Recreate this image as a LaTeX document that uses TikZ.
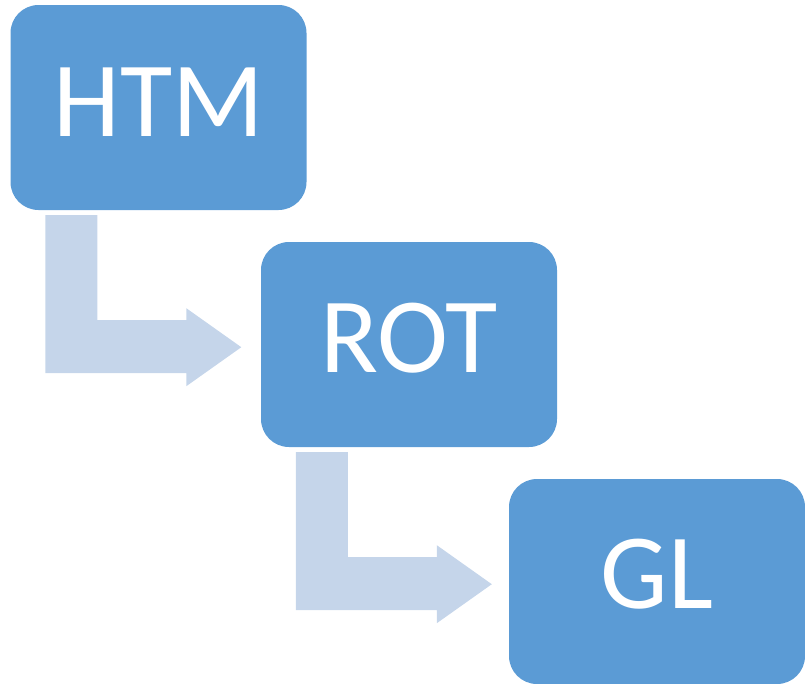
\documentclass[tikz,border=0pt]{standalone}
\usepackage{fontspec}
\newfontfamily\carlito{Carlito}
\usetikzlibrary{calc}
\definecolor{boxblue}{HTML}{5B9BD5}
\definecolor{arrowblue}{HTML}{C5D5EA}
\tikzset{
  stagebox/.style={draw=none, fill=boxblue, rounded corners=28pt, minimum width=296pt, minimum height=205pt, inner sep=0pt},
  stagelabel/.style={text=white, font=\carlito\fontsize{107}{107}\selectfont, inner sep=0pt, anchor=base},
  arrowshape/.style={fill=arrowblue, draw=none}
}
\newcommand\bentarrow[1]{%
  \path[arrowshape] ($(#1.south west)+(35,5)$) -- ++(52,0) -- ++(0,105) -- ++(89,0) -- ++(0,-12)
     -- ++(55,39) -- ++(-55,39) -- ++(0,-13) -- ++(-141,0) -- cycle;}
\begin{document}
\begin{tikzpicture}[x=1pt,y=-1pt]
\useasboundingbox (0,0) rectangle (805,683);
\node[stagebox] (htm) at (158.5,107.5) {};
\node[stagebox] (rot) at (409,344.5) {};
\node[stagebox] (gl) at (657,581.5) {};
\node[stagelabel] (htmt) at ($(htm.north)+(0,132)$) {HTM};
\node[stagelabel] (rott) at ($(rot.north)+(0,131)$) {ROT};
\node[stagelabel] (glt) at ($(gl.north)+(0,130)$) {GL};
\bentarrow{htm}
\bentarrow{rot}
\end{tikzpicture}
\end{document}
